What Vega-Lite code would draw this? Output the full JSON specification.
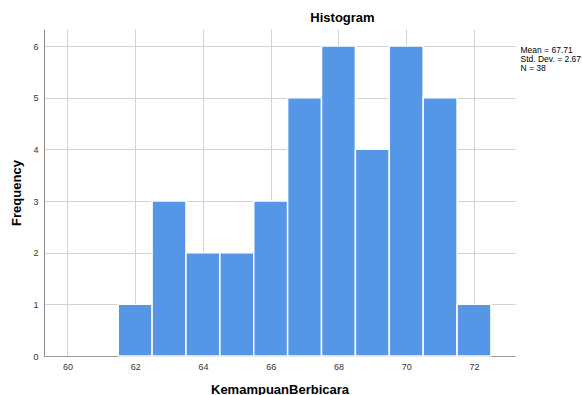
{
  "$schema": "https://vega.github.io/schema/vega-lite/v6.json",
  "width": 471,
  "height": 327,
  "autosize": {"type": "none"},
  "padding": {"left": 44, "top": 29, "right": 67, "bottom": 39},
  "background": "white",
  "config": {"view": {"stroke": null}, "font": "Liberation Sans"},
  "title": {"text": "Histogram", "fontSize": 13, "fontWeight": "bold", "dx": 63, "offset": -6, "baseline": "alphabetic", "color": "#000000"},
  "layer": [
    {
      "data": {"values": [
        {"bin_start": 61.5, "bin_end": 62.5, "count": 1},
        {"bin_start": 62.5, "bin_end": 63.5, "count": 3},
        {"bin_start": 63.5, "bin_end": 64.5, "count": 2},
        {"bin_start": 64.5, "bin_end": 65.5, "count": 2},
        {"bin_start": 65.5, "bin_end": 66.5, "count": 3},
        {"bin_start": 66.5, "bin_end": 67.5, "count": 5},
        {"bin_start": 67.5, "bin_end": 68.5, "count": 6},
        {"bin_start": 68.5, "bin_end": 69.5, "count": 4},
        {"bin_start": 69.5, "bin_end": 70.5, "count": 6},
        {"bin_start": 70.5, "bin_end": 71.5, "count": 5},
        {"bin_start": 71.5, "bin_end": 72.5, "count": 1}
      ]},
      "mark": {"type": "bar", "color": "#5596e6", "stroke": "white", "strokeWidth": 1.5},
      "encoding": {
        "x": {
          "field": "bin_start", "type": "quantitative",
          "scale": {"domain": [59.31, 73.21], "nice": false, "zero": false, "padding": 0},
          "axis": {
            "values": [60, 62, 64, 66, 68, 70, 72],
            "title": "KemampuanBerbicara", "titleFontSize": 13, "titleFontWeight": "bold", "titleColor": "#000000", "titlePadding": 12,
            "labelFontSize": 9, "labelColor": "#333333", "labelPadding": 6, "ticks": false,
            "domainColor": "#999999", "grid": true, "gridColor": "#d3d3d3"
          }
        },
        "x2": {"field": "bin_end"},
        "y": {
          "field": "count", "type": "quantitative",
          "scale": {"domain": [0, 6.33], "nice": false, "padding": 0},
          "axis": {
            "values": [0, 1, 2, 3, 4, 5, 6],
            "title": "Frequency", "titleFontSize": 13, "titleFontWeight": "bold", "titleColor": "#000000", "titlePadding": 9,
            "labelFontSize": 9, "labelColor": "#333333", "labelPadding": 6, "ticks": false,
            "domainColor": "#888888", "grid": true, "gridColor": "#d3d3d3"
          }
        },
        "y2": {"datum": 0}
      }
    },
    {
      "data": {"values": [
        {"stat": "Mean = 67.71"},
        {"stat": "Std. Dev. = 2.67"},
        {"stat": "N = 38"}
      ]},
      "mark": {"type": "point", "opacity": 0},
      "encoding": {
        "color": {
          "field": "stat", "type": "nominal",
          "scale": {"domain": ["Mean = 67.71", "Std. Dev. = 2.67", "N = 38"], "range": ["white", "white", "white"]},
          "legend": {
            "title": null, "orient": "none", "legendX": 468, "legendY": 17,
            "symbolSize": 0, "symbolStrokeWidth": 0, "symbolOpacity": 0, "labelOffset": 0,
            "labelFontSize": 8.5, "labelColor": "#000000", "clipHeight": 8, "rowPadding": 0, "padding": 0
          }
        }
      }
    }
  ]
}
